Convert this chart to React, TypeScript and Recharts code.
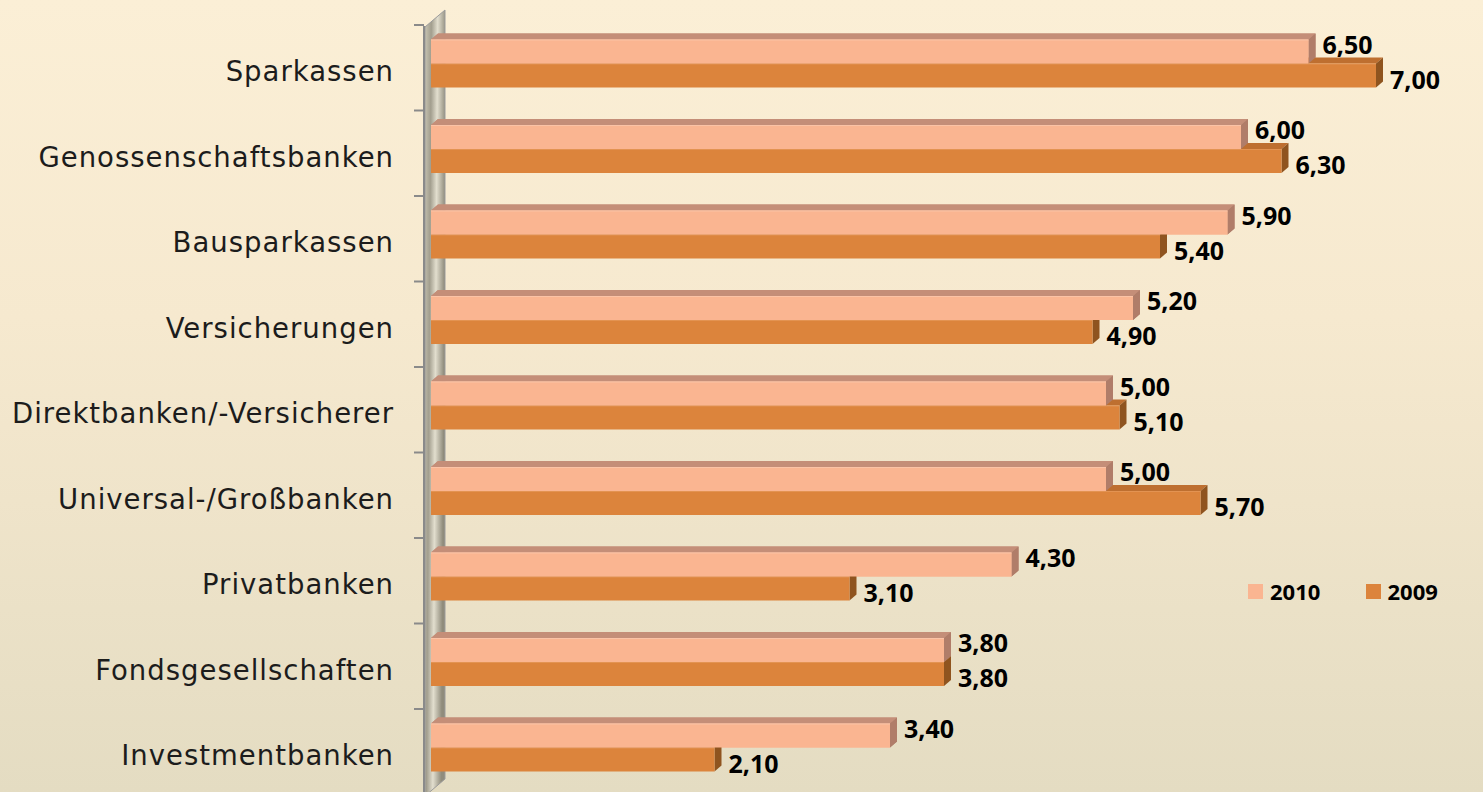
import React from 'react';
import { BarChart, Bar, XAxis, YAxis, LabelList, Legend } from 'recharts';

const categories = [
  'Sparkassen',
  'Genossenschaftsbanken',
  'Bausparkassen',
  'Versicherungen',
  'Direktbanken/-Versicherer',
  'Universal-/Großbanken',
  'Privatbanken',
  'Fondsgesellschaften',
  'Investmentbanken',
];
const values2010 = [6.5, 6.0, 5.9, 5.2, 5.0, 5.0, 4.3, 3.8, 3.4];
const values2009 = [7.0, 6.3, 5.4, 4.9, 5.1, 5.7, 3.1, 3.8, 2.1];
const seriesNames = ['2010', '2009'];

const data = categories.map((name, i) => ({ name, v2010: values2010[i], v2009: values2009[i] }));

const W = 1483;
const H = 792;
const PLOT_LEFT = 431;
const PLOT_TOP = 20.5;
const BAND = 85.5;
const PLOT_H = BAND * categories.length;
const X_MAX = 7.5;
const PX_PER_UNIT = 135;
const PLOT_W = X_MAX * PX_PER_UNIT;
const MARGIN_RIGHT = W - PLOT_LEFT - PLOT_W;
const MARGIN_BOTTOM = H - PLOT_TOP - PLOT_H;

const DX = 7;
const DY = 6;

const C2010 = { front: '#FAB591', top: '#C48E78', side: '#B07D69', edge: '#FCCDB4' };
const C2009 = { front: '#DC843C', top: '#BE6F30', side: '#8F541F', edge: '#E89E62' };

type Colors = typeof C2010;

function draw3D(x: number, y: number, w: number, h: number, c: Colors, key: string) {
  if (!(w > 0)) return null;
  const top = `${x},${y} ${x + DX},${y - DY} ${x + w + DX},${y - DY} ${x + w},${y}`;
  const side = `${x + w},${y} ${x + w + DX},${y - DY} ${x + w + DX},${y + h - DY} ${x + w},${y + h}`;
  return (
    <g key={key}>
      <polygon points={top} fill={c.top} />
      <polygon points={side} fill={c.side} />
      <rect x={x} y={y} width={w} height={h} fill={c.front} />
      <line x1={x} y1={y + 0.5} x2={x + w} y2={y + 0.5} stroke={c.edge} strokeWidth={1} opacity={0.6} />
    </g>
  );
}

const shape2010 = (props: any) => {
  const { x, y, width, height } = props;
  return draw3D(x, y, width, height, C2010, 'a');
};

const shape2009 = (props: any) => {
  const { x, y, width, height, payload } = props;
  const w10 = (width * payload.v2010) / payload.v2009;
  return (
    <g>
      {draw3D(x, y, width, height, C2009, 'b')}
      {draw3D(x, y - height, w10, height, C2010, 'c')}
    </g>
  );
};

const fmt = (v: number) => v.toFixed(2).replace('.', ',');

const makeLabel = (dyOff: number) => (props: any) => {
  const { x, y, width, height, value } = props;
  return (
    <text
      x={x + width + 14}
      y={y + height / 2 + dyOff}
      dominantBaseline="central"
      textAnchor="start"
      fontFamily="'Open Sans', sans-serif"
      fontWeight={700}
      fontSize={25}
      fill="#000"
    >
      {fmt(value)}
    </text>
  );
};

const CategoryTick = (props: any) => {
  const { x, y, payload } = props;
  return (
    <text
      x={x}
      y={y + 18}
      textAnchor="end"
      fontFamily="'DejaVu Sans', sans-serif"
      fontSize={27.5}
      letterSpacing={1}
      fill="#1c1c1c"
    >
      {payload.value}
    </text>
  );
};

const renderLegend = (props: any) => {
  const items = [...(props.payload || [])].sort(
    (a: any, b: any) => seriesNames.indexOf(a.value) - seriesNames.indexOf(b.value)
  );
  return (
    <div style={{ display: 'flex', flexDirection: 'row' }}>
      {items.map((p: any) => (
        <div key={p.value} style={{ display: 'flex', alignItems: 'center', width: 145 }}>
          <div style={{ width: 15, height: 15, background: p.color, marginRight: 7 }} />
          <span
            style={{
              fontFamily: "'Open Sans', sans-serif",
              fontWeight: 700,
              fontSize: 22,
              color: '#000',
              lineHeight: '26px',
            }}
          >
            {p.value}
          </span>
        </div>
      ))}
    </div>
  );
};

function Wall() {
  const wx = PLOT_LEFT - 6; // 425
  const topY = PLOT_TOP + 6.5;
  const botY = H + 4;
  const ticks = [];
  for (let i = 0; i <= categories.length; i++) {
    const ty = PLOT_TOP + 4.5 + i * BAND;
    ticks.push(<line key={i} x1={wx - 11} y1={ty} x2={wx - 1} y2={ty} stroke="#8A8A8A" strokeWidth={2} />);
  }
  return (
    <svg width={W} height={H} style={{ position: 'absolute', left: 0, top: 0 }}>
      <defs>
        <linearGradient id="wallGrad" x1="0" y1="0" x2="1" y2="0.25">
          <stop offset="0" stopColor="#c9c5b3" />
          <stop offset="0.3" stopColor="#a29e8e" />
          <stop offset="0.6" stopColor="#e2dece" />
          <stop offset="1" stopColor="#908c7c" />
        </linearGradient>
      </defs>
      <polygon
        points={`${wx},${topY} ${wx + 20},${topY - 17} ${wx + 20},${botY - 17} ${wx},${botY}`}
        fill="url(#wallGrad)"
        stroke="#9b9b9b"
        strokeWidth={1}
      />
      <line x1={wx - 1} y1={topY - 1} x2={wx - 1} y2={H} stroke="#8A8A8A" strokeWidth={2} />
      {ticks}
    </svg>
  );
}

export default function App() {
  return (
    <div
      style={{
        position: 'absolute',
        left: 0,
        top: 0,
        width: W,
        height: H,
        overflow: 'hidden',
        background: 'linear-gradient(to bottom, #FBEFD6 0%, #F6E9CF 40%, #E4DCC2 100%)',
      }}
    >
      <Wall />
      <div style={{ position: 'absolute', left: 0, top: 0 }}>
        <BarChart
          width={W}
          height={H}
          data={data}
          layout="vertical"
          margin={{ top: PLOT_TOP, right: MARGIN_RIGHT, bottom: MARGIN_BOTTOM, left: 0 }}
          barGap={0}
          barSize={24}
        >
          <XAxis type="number" domain={[0, X_MAX]} hide />
          <YAxis
            type="category"
            dataKey="name"
            width={PLOT_LEFT}
            axisLine={false}
            tickLine={false}
            tickSize={0}
            tickMargin={37}
            interval={0}
            tick={<CategoryTick />}
          />
          <Legend
            layout="horizontal"
            verticalAlign="middle"
            align="center"
            wrapperStyle={{ left: 1248, top: 578, width: 235, height: 26 }}
            content={renderLegend}
          />
          <Bar dataKey="v2010" name={seriesNames[0]} fill={C2010.front} shape={shape2010} isAnimationActive={false}>
            <LabelList dataKey="v2010" content={makeLabel(-8)} />
          </Bar>
          <Bar dataKey="v2009" name={seriesNames[1]} fill={C2009.front} shape={shape2009} isAnimationActive={false}>
            <LabelList dataKey="v2009" content={makeLabel(3)} />
          </Bar>
        </BarChart>
      </div>
    </div>
  );
}
